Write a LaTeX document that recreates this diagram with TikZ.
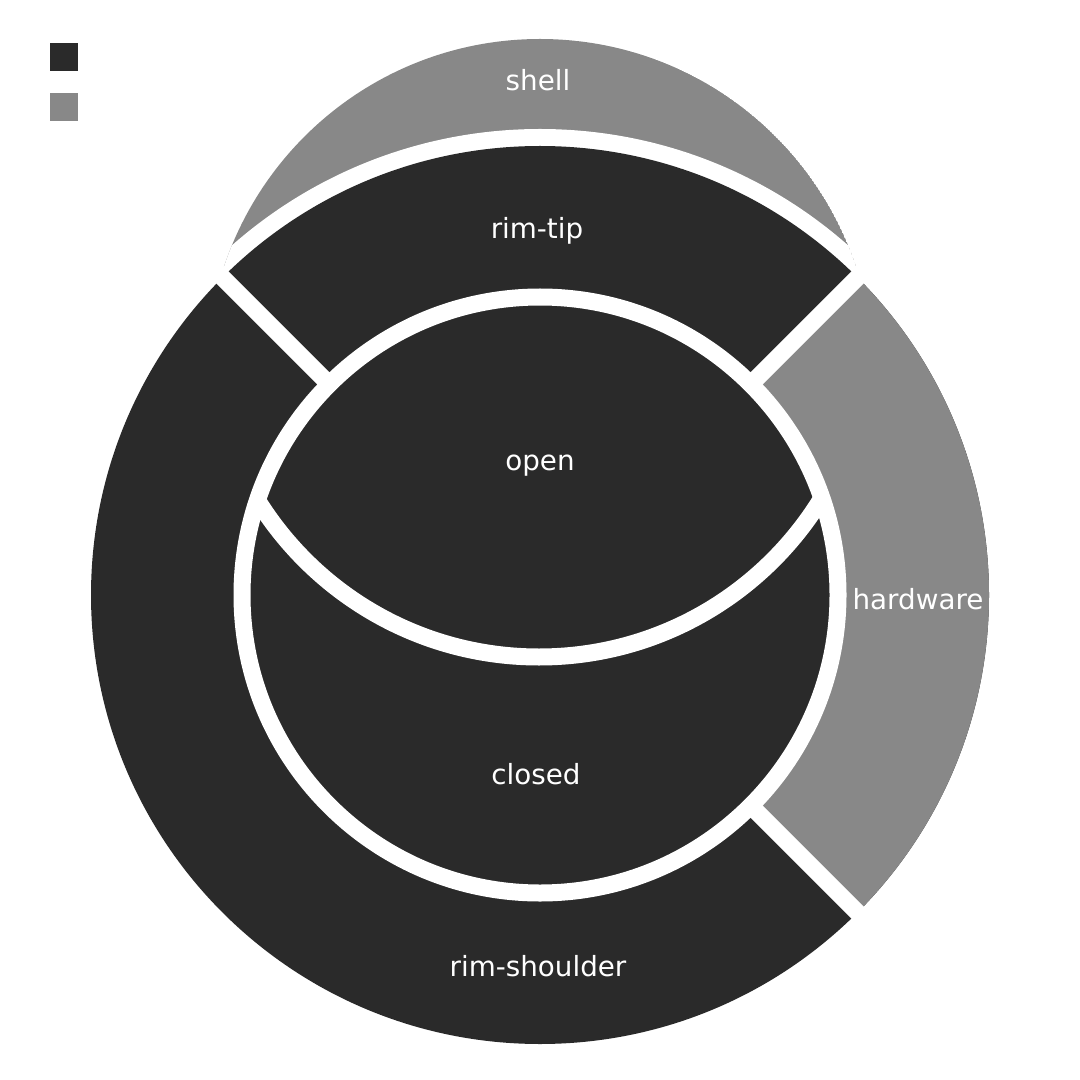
\documentclass[tikz,border=0pt]{standalone}
\usepackage{fontspec}
\setmainfont{DejaVu Sans}
\usetikzlibrary{positioning}
\definecolor{segdark}{HTML}{2A2A2A}
\definecolor{seggray}{HTML}{888888}
\tikzset{lbl/.style={text=white,font=\fontsize{7.9}{9}\selectfont,inner sep=0pt}}
\tikzset{gap/.style={white,line width=0.17cm}}
\tikzset{legbox/.style={minimum size=0.28cm,inner sep=0pt}}

\begin{document}
\begin{tikzpicture}
	\useasboundingbox (0,0) rectangle (10.8,-10.8);
	\coordinate (c) at (5.40,-5.95);
	% shell
	\begin{scope}
		\clip (5.40,-3.72) circle (3.33);
		\fill[seggray] (5.40,-3.72) circle (3.33);
		\fill[white] (c) circle (4.66);
	\end{scope}
	% ring and hardware
	\fill[segdark] (c) circle (4.49);
	\fill[seggray] (c) -- ++(-45:4.49) arc (-45:45:4.49) -- cycle;
	\fill[segdark] (c) circle (3.0);
	\draw[gap] (c) circle (2.98);
	\foreach \a in {45,135,-45}
		\draw[gap] ([shift={(\a:3.0)}]c) -- ([shift={(\a:4.6)}]c);
	% open / closed
	\begin{scope}
		\clip (c) circle (2.98);
		\draw[gap] (5.39,-3.26) circle (3.31);
	\end{scope}
	\node[legbox,fill=segdark] (legdark) at (0.64,-0.575) {};
	\node[legbox,fill=seggray] (leggray) at (0.64,-1.07) {};
	\node[lbl] (shell) at (5.38,-0.80) {shell};
	\node[lbl] (rimtip) at (5.37,-2.31) {rim-tip};
	\node[lbl] (open) at (5.40,-4.66) {open};
	\node[lbl] (hardware) at (9.18,-5.99) {hardware};
	\node[lbl] (closed) at (5.36,-7.74) {closed};
	\node[lbl] (rimshoulder) at (5.38,-9.66) {rim-shoulder};
\end{tikzpicture}
\end{document}
